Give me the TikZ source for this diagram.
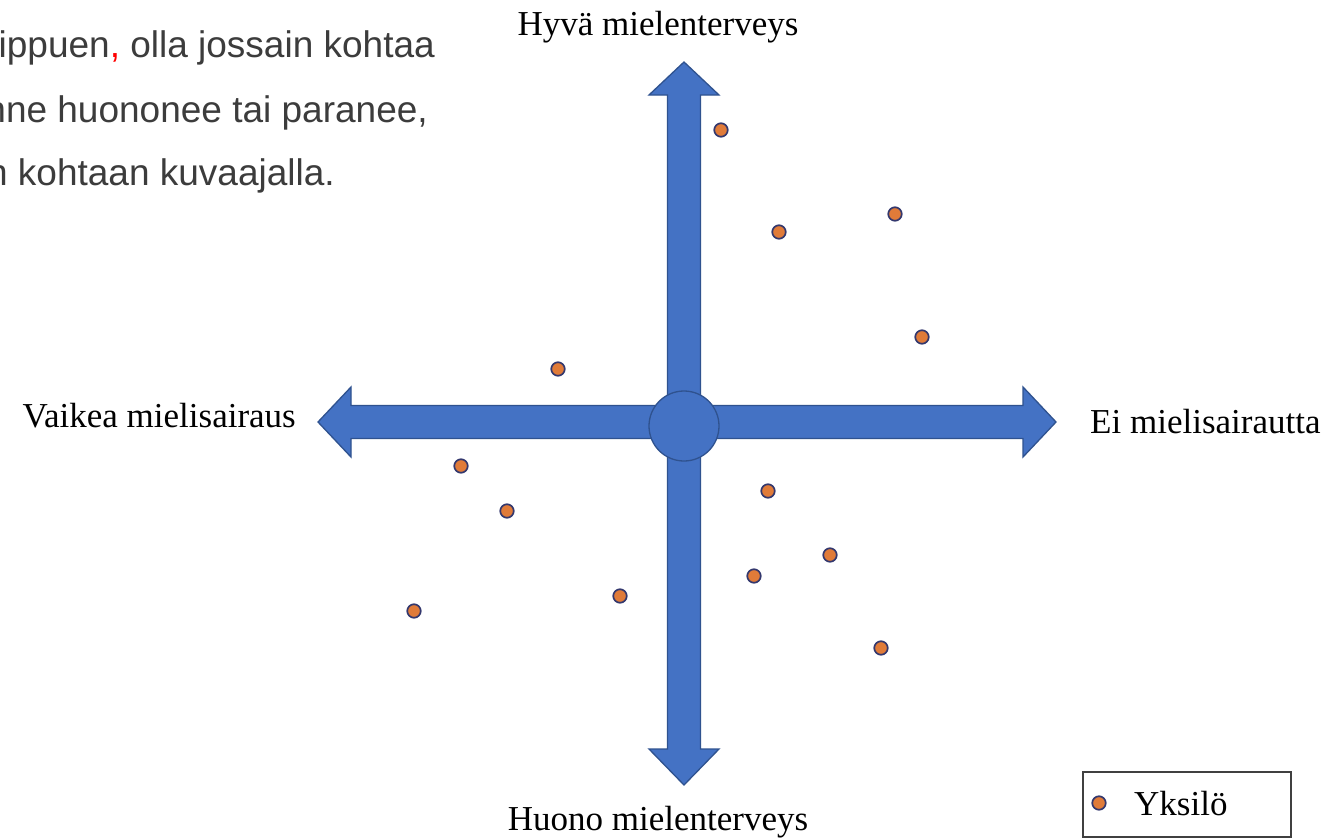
\documentclass[tikz,border=0pt]{standalone}
\usepackage{fontspec}
\setmainfont{Liberation Serif}
\newfontfamily\sansf{Liberation Sans}
\usetikzlibrary{calc}
\definecolor{abody}{HTML}{4472C4}
\definecolor{aedge}{HTML}{2F528F}
\definecolor{dotfill}{HTML}{E07B39}
\definecolor{dotedge}{HTML}{33386E}
\definecolor{txtgray}{HTML}{3C3C3C}
\tikzset{
  fatarrow/.style={fill=abody, draw=aedge, line width=1.3pt, line join=miter},
  hub/.style={circle, fill=abody, draw=aedge, line width=1.3pt, minimum size=70pt, inner sep=0pt},
  dot/.style={circle, fill=dotfill, draw=dotedge, line width=1.7pt, minimum size=13.5pt, inner sep=0pt},
  axislabel/.style={font=\fontsize{35}{40}\selectfont, inner sep=0pt, text=black},
  bodytext/.style={font=\sansf\fontsize{37}{44}\selectfont, inner sep=0pt, text=txtgray},
  legendbox/.style={draw=black!75, line width=1.3pt, fill=white}
}
\begin{document}
\begin{tikzpicture}[x=1pt,y=-1pt]
\useasboundingbox (0,0) rectangle (1325,838);
\fill[white] (0,0) rectangle (1325,838);
\begin{scope}
\clip (0,0) rectangle (1325,838);
% paragraph fragment at top left
\node[bodytext, anchor=base east] (p1) at (435,57) {ippuen\textcolor{red}{,} olla jossain kohtaa};
\node[bodytext, anchor=base east] (p2) at (428,122) {nne huononee tai paranee,};
\node[bodytext, anchor=base east] (p3) at (335,185) {n kohtaan kuvaajalla.};

% arrows
\coordinate (C) at (684,422);
\coordinate (tU) at (684,62);
\coordinate (tD) at (684,785);
\coordinate (tL) at (318,422);
\coordinate (tR) at (1056,422);
\def\bw{16.5}
\def\hw{35}
\def\hl{33}
\draw[fatarrow] ($(C)+(-\bw,0)$) -- ($(tU)+(-\bw,\hl)$) -- ($(tU)+(-\hw,\hl)$) -- (tU) -- ($(tU)+(\hw,\hl)$) -- ($(tU)+(\bw,\hl)$) -- ($(C)+(\bw,0)$) -- cycle;
\draw[fatarrow] ($(C)+(-\bw,0)$) -- ($(tD)+(-\bw,-36)$) -- ($(tD)+(-\hw,-36)$) -- (tD) -- ($(tD)+(\hw,-36)$) -- ($(tD)+(\bw,-36)$) -- ($(C)+(\bw,0)$) -- cycle;
\draw[fatarrow] ($(C)+(0,-\bw)$) -- ($(tL)+(\hl,-\bw)$) -- ($(tL)+(\hl,-\hw)$) -- (tL) -- ($(tL)+(\hl,\hw)$) -- ($(tL)+(\hl,\bw)$) -- ($(C)+(0,\bw)$) -- cycle;
\draw[fatarrow] ($(C)+(0,-\bw)$) -- ($(tR)+(-\hl,-\bw)$) -- ($(tR)+(-\hl,-\hw)$) -- (tR) -- ($(tR)+(-\hl,\hw)$) -- ($(tR)+(-\hl,\bw)$) -- ($(C)+(0,\bw)$) -- cycle;
\node[hub] (hubc) at (684,426) {};

% axis labels
\node[axislabel, anchor=base] (lu) at (658,35) {Hyvä mielenterveys};
\node[axislabel, anchor=base] (ld) at (658,830) {Huono mielenterveys};
\node[axislabel, anchor=base east] (ll) at (296,427) {Vaikea mielisairaus};
\node[axislabel, anchor=base west] (lr) at (1090,433) {Ei mielisairautta};

% individuals
\node[dot] (d1) at (721,130) {};
\node[dot] (d2) at (779,232) {};
\node[dot] (d3) at (895,214) {};
\node[dot] (d4) at (922,337) {};
\node[dot] (d5) at (558,369) {};
\node[dot] (d6) at (461,466) {};
\node[dot] (d7) at (507,511) {};
\node[dot] (d8) at (768,491) {};
\node[dot] (d9) at (830,555) {};
\node[dot] (d10) at (754,576) {};
\node[dot] (d11) at (620,596) {};
\node[dot] (d12) at (414,611) {};
\node[dot] (d13) at (881,648) {};

% legend
\draw[legendbox] (1083,772) rectangle (1291,837);
\node[dot] (ldot) at (1099,803) {};
\node[axislabel, anchor=base west] (ltext) at (1134,815) {Yksilö};
\end{scope}
\end{tikzpicture}
\end{document}
